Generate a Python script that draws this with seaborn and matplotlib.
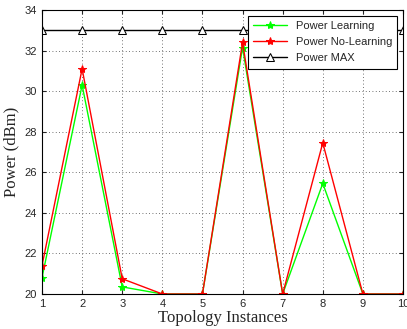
import numpy as np
import pandas as pd
import matplotlib
matplotlib.use("Agg")
import matplotlib.pyplot as plt
import seaborn as sns

# data
instances = [1, 2, 3, 4, 5, 6, 7, 8, 9, 10]
power_learning = [20.8, 30.3, 20.35, 20, 20, 32.15, 20, 25.45, 20, 20]
power_no_learning = [21.4, 31.1, 20.75, 20, 20, 32.4, 20, 27.45, 20, 20]
power_max = [33, 33, 33, 33, 33, 33, 33, 33, 33, 33]

sns.set_style("ticks")
plt.rcParams['font.family'] = ['Liberation Sans', 'DejaVu Sans']

fig = plt.figure(figsize=(4.07, 3.29), dpi=100)
ax = fig.add_axes([42 / 407, 1 - 294 / 329, 361 / 407, 284 / 329])

sns.lineplot(x=instances, y=power_learning, ax=ax, color="#00ff00", lw=1,
             marker="*", markersize=6, markeredgecolor="#00ff00", label="Power Learning")
sns.lineplot(x=instances, y=power_no_learning, ax=ax, color="#ff0000", lw=1,
             marker="*", markersize=6, markeredgecolor="#ff0000", label="Power No-Learning")
sns.lineplot(x=instances, y=power_max, ax=ax, color="black", lw=1,
             marker="^", markersize=5.5, markerfacecolor="white",
             markeredgecolor="black", label="Power MAX")

ax.set_xlim(1, 10)
ax.set_ylim(20, 34)
ax.set_xticks(instances)
ax.set_yticks(np.arange(20, 35, 2))
ax.tick_params(direction="in", labelsize=8, length=3, top=True, right=True)
ax.grid(True, linestyle=(0, (1, 3)), color="#444444", linewidth=0.6)
for s in ax.spines.values():
    s.set_visible(True)
    s.set_linewidth(0.8)
    s.set_color("black")

ax.set_xlabel("Topology Instances", family=["Liberation Serif"], fontsize=12, labelpad=1)
ax.set_ylabel("Power (dBm)", family=["Liberation Serif"], fontsize=12, labelpad=4)

leg = ax.legend(loc="upper right", fontsize=8, fancybox=False, framealpha=1,
                edgecolor="black", borderaxespad=0.5, handlelength=3.0,
                labelspacing=0.55, borderpad=0.5)
leg.get_frame().set_linewidth(0.8)

fig.savefig("out.png", dpi=100)
